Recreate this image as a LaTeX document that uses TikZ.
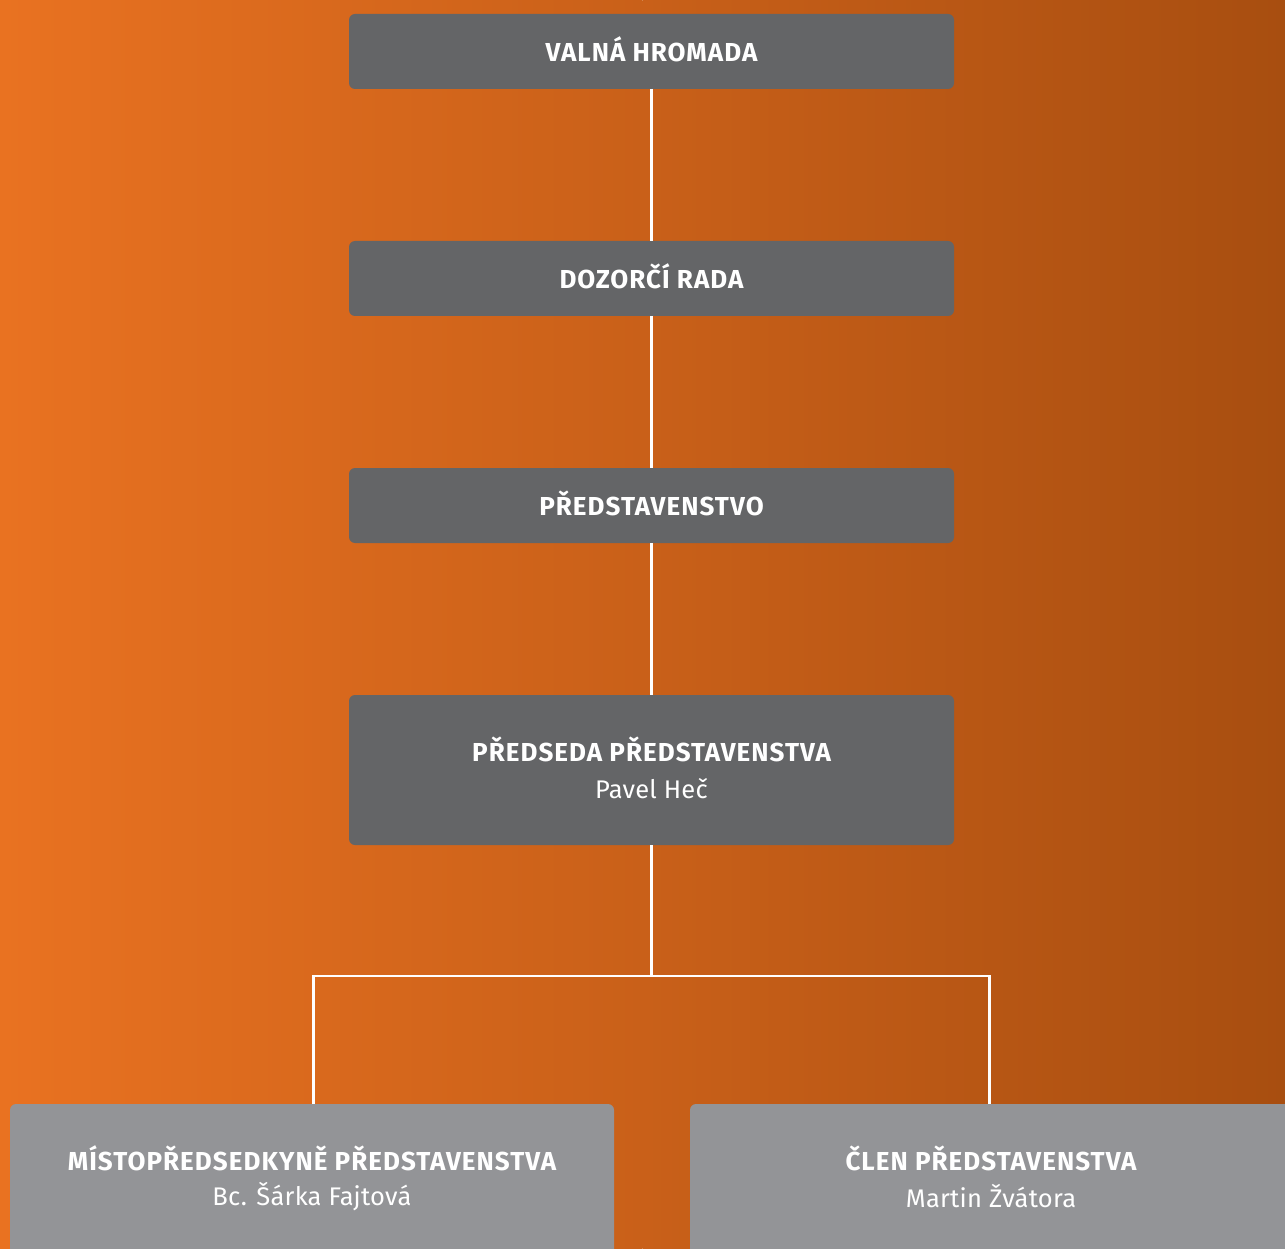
\documentclass[tikz,border=0pt]{standalone}
\usepackage{fontspec}
\setmainfont{Fira Sans}
\definecolor{orL}{RGB}{233,114,33}
\definecolor{orM}{RGB}{201,96,25}
\definecolor{orR}{RGB}{168,78,16}
\definecolor{darkbox}{RGB}{100,101,103}
\definecolor{lightbox}{RGB}{147,148,151}
\tikzset{
  boxbase/.style={rounded corners=6pt, draw=none},
  titletext/.style={text=white, font=\bfseries\fontsize{26}{30}\selectfont\addfontfeatures{LetterSpace=4}, anchor=center, inner sep=0},
  nametext/.style={text=white, font=\fontsize{25.5}{30}\selectfont\addfontfeatures{LetterSpace=1}, anchor=center, inner sep=0},
  conn/.style={draw=white, line width=2.2pt}
}
\begin{document}
\begin{tikzpicture}[x=1pt,y=-1pt]
\useasboundingbox (0,0) rectangle (1285,1249);
\clip (0,0) rectangle (1285,1249);
\shade[left color=orL, right color=orM] (0,0) rectangle (642.5,1249);
\shade[left color=orM, right color=orR] (642.5,0) rectangle (1285,1249);
% boxes
\fill[boxbase, darkbox] (349,14) rectangle (954,89);
\fill[boxbase, darkbox] (349,241) rectangle (954,316);
\fill[boxbase, darkbox] (349,468) rectangle (954,543);
\fill[boxbase, darkbox] (349,695) rectangle (954,845);
\fill[boxbase, lightbox] (10,1104) rectangle (614,1270);
\fill[boxbase, lightbox] (690,1104) rectangle (1310,1270);
% named anchors
\coordinate (b1s) at (651.5,89);
\coordinate (b2n) at (651.5,241);
\coordinate (b2s) at (651.5,316);
\coordinate (b3n) at (651.5,468);
\coordinate (b3s) at (651.5,543);
\coordinate (b4n) at (651.5,695);
\coordinate (b4s) at (651.5,845);
\coordinate (jn) at (651.5,976);
\coordinate (jl) at (313.5,976);
\coordinate (jr) at (989.5,976);
\coordinate (b5n) at (313.5,1104);
\coordinate (b6n) at (989.5,1104);
% connectors
\draw[conn] (b1s) -- (b2n);
\draw[conn] (b2s) -- (b3n);
\draw[conn] (b3s) -- (b4n);
\draw[conn] (b4s) -- (jn);
\draw[conn, line join=miter] (b5n) -- (jl) -- (jr) -- (b6n);
% texts
\node[titletext] (t1) at (651.5,49.5) {VALNÁ HROMADA};
\node[titletext] (t2) at (651.5,276.5) {DOZORČÍ RADA};
\node[titletext] (t3) at (651.5,503.5) {PŘEDSTAVENSTVO};
\node[titletext] (t4) at (651.5,749.5) {PŘEDSEDA PŘEDSTAVENSTVA};
\node[nametext] (n4) at (651.5,788.5) {Pavel Heč};
\node[titletext] (t5) at (312,1158.5) {MÍSTOPŘEDSEDKYNĚ PŘEDSTAVENSTVA};
\node[nametext] (n5) at (312,1196.5) {Bc. Šárka Fajtová};
\node[titletext] (t6) at (991,1158.5) {ČLEN PŘEDSTAVENSTVA};
\node[nametext] (n6) at (991,1196.5) {Martin Žvátora};
\end{tikzpicture}
\end{document}
